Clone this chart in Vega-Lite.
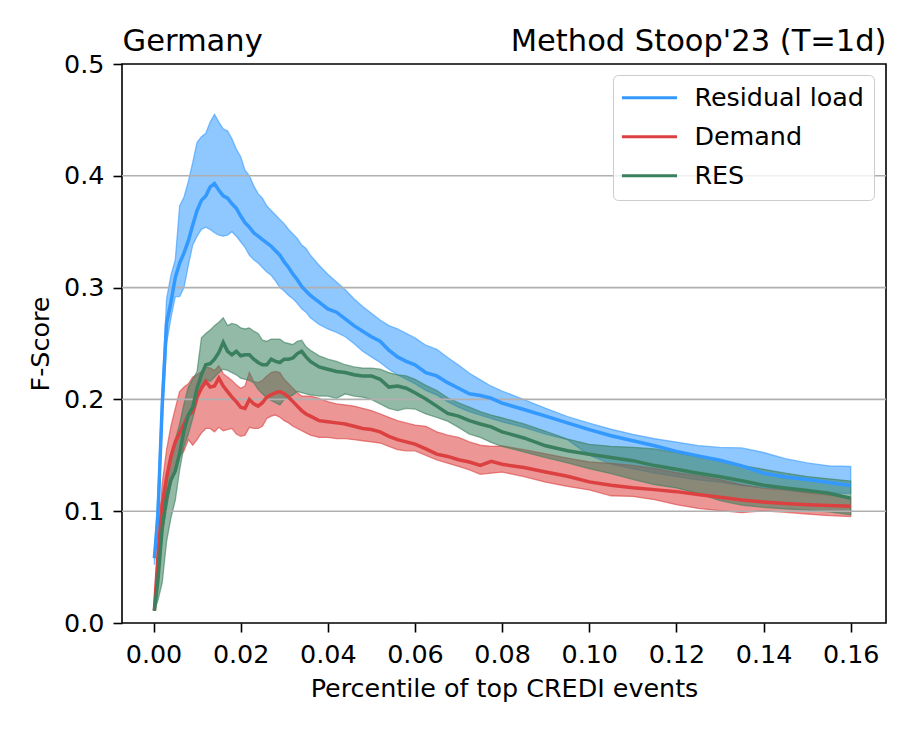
{
  "$schema": "https://vega.github.io/schema/vega-lite/v6.json",
  "width": 764,
  "height": 559,
  "autosize": {"type": "none"},
  "padding": {"left": 122, "top": 64, "right": 27, "bottom": 108},
  "config": {
    "font": "DejaVu Sans",
    "view": {"stroke": "#000000", "strokeWidth": 1.6},
    "axis": {
      "labelFont": "DejaVu Sans", "titleFont": "DejaVu Sans",
      "labelColor": "#000000", "titleColor": "#000000", "tickColor": "#000000",
      "labelFontSize": 25.4, "titleFontSize": 25.4, "titleFontWeight": "normal",
      "tickWidth": 1.6, "tickSize": 9, "domain": false, "grid": false
    }
  },
  "datasets": {
    "bands": [
      {"s":"Residual load","x":0.0002,"lo":0.052,"m":0.058,"hi":0.064},
      {"s":"Residual load","x":0.001,"lo":0.080,"m":0.095,"hi":0.115},
      {"s":"Residual load","x":0.002,"lo":0.180,"m":0.195,"hi":0.210},
      {"s":"Residual load","x":0.003,"lo":0.250,"m":0.268,"hi":0.290},
      {"s":"Residual load","x":0.004,"lo":0.273,"m":0.287,"hi":0.311},
      {"s":"Residual load","x":0.005,"lo":0.292,"m":0.309,"hi":0.325},
      {"s":"Residual load","x":0.006,"lo":0.292,"m":0.322,"hi":0.373},
      {"s":"Residual load","x":0.007,"lo":0.300,"m":0.331,"hi":0.381},
      {"s":"Residual load","x":0.008,"lo":0.320,"m":0.342,"hi":0.395},
      {"s":"Residual load","x":0.009,"lo":0.338,"m":0.356,"hi":0.412},
      {"s":"Residual load","x":0.010,"lo":0.346,"m":0.369,"hi":0.430},
      {"s":"Residual load","x":0.011,"lo":0.352,"m":0.378,"hi":0.435},
      {"s":"Residual load","x":0.012,"lo":0.354,"m":0.382,"hi":0.438},
      {"s":"Residual load","x":0.013,"lo":0.352,"m":0.390,"hi":0.448},
      {"s":"Residual load","x":0.014,"lo":0.349,"m":0.393,"hi":0.455},
      {"s":"Residual load","x":0.015,"lo":0.347,"m":0.387,"hi":0.448},
      {"s":"Residual load","x":0.016,"lo":0.346,"m":0.382,"hi":0.442},
      {"s":"Residual load","x":0.017,"lo":0.347,"m":0.380,"hi":0.440},
      {"s":"Residual load","x":0.018,"lo":0.350,"m":0.375,"hi":0.433},
      {"s":"Residual load","x":0.019,"lo":0.346,"m":0.371,"hi":0.424},
      {"s":"Residual load","x":0.020,"lo":0.341,"m":0.364,"hi":0.417},
      {"s":"Residual load","x":0.021,"lo":0.336,"m":0.358,"hi":0.405},
      {"s":"Residual load","x":0.022,"lo":0.329,"m":0.354,"hi":0.400},
      {"s":"Residual load","x":0.023,"lo":0.325,"m":0.349,"hi":0.391},
      {"s":"Residual load","x":0.024,"lo":0.322,"m":0.346,"hi":0.384},
      {"s":"Residual load","x":0.025,"lo":0.318,"m":0.343,"hi":0.380},
      {"s":"Residual load","x":0.026,"lo":0.314,"m":0.340,"hi":0.373},
      {"s":"Residual load","x":0.027,"lo":0.311,"m":0.337,"hi":0.369},
      {"s":"Residual load","x":0.028,"lo":0.306,"m":0.333,"hi":0.365},
      {"s":"Residual load","x":0.029,"lo":0.300,"m":0.329,"hi":0.361},
      {"s":"Residual load","x":0.030,"lo":0.297,"m":0.323,"hi":0.357},
      {"s":"Residual load","x":0.031,"lo":0.293,"m":0.318,"hi":0.352},
      {"s":"Residual load","x":0.032,"lo":0.290,"m":0.312,"hi":0.348},
      {"s":"Residual load","x":0.033,"lo":0.286,"m":0.307,"hi":0.344},
      {"s":"Residual load","x":0.034,"lo":0.281,"m":0.301,"hi":0.338},
      {"s":"Residual load","x":0.035,"lo":0.278,"m":0.297,"hi":0.335},
      {"s":"Residual load","x":0.036,"lo":0.273,"m":0.293,"hi":0.329},
      {"s":"Residual load","x":0.038,"lo":0.267,"m":0.287,"hi":0.320},
      {"s":"Residual load","x":0.040,"lo":0.263,"m":0.281,"hi":0.312},
      {"s":"Residual load","x":0.042,"lo":0.260,"m":0.278,"hi":0.305},
      {"s":"Residual load","x":0.044,"lo":0.256,"m":0.272,"hi":0.298},
      {"s":"Residual load","x":0.046,"lo":0.250,"m":0.266,"hi":0.290},
      {"s":"Residual load","x":0.048,"lo":0.243,"m":0.261,"hi":0.283},
      {"s":"Residual load","x":0.050,"lo":0.238,"m":0.256,"hi":0.277},
      {"s":"Residual load","x":0.052,"lo":0.233,"m":0.252,"hi":0.271},
      {"s":"Residual load","x":0.054,"lo":0.227,"m":0.244,"hi":0.266},
      {"s":"Residual load","x":0.056,"lo":0.222,"m":0.238,"hi":0.263},
      {"s":"Residual load","x":0.058,"lo":0.218,"m":0.234,"hi":0.259},
      {"s":"Residual load","x":0.060,"lo":0.214,"m":0.231,"hi":0.255},
      {"s":"Residual load","x":0.0625,"lo":0.208,"m":0.224,"hi":0.2485},
      {"s":"Residual load","x":0.065,"lo":0.204,"m":0.221,"hi":0.2447},
      {"s":"Residual load","x":0.0675,"lo":0.198,"m":0.215,"hi":0.2375},
      {"s":"Residual load","x":0.070,"lo":0.193,"m":0.210,"hi":0.2307},
      {"s":"Residual load","x":0.0725,"lo":0.189,"m":0.205,"hi":0.2234},
      {"s":"Residual load","x":0.075,"lo":0.186,"m":0.2035,"hi":0.2175},
      {"s":"Residual load","x":0.0775,"lo":0.183,"m":0.201,"hi":0.2118},
      {"s":"Residual load","x":0.080,"lo":0.180,"m":0.1967,"hi":0.2075},
      {"s":"Residual load","x":0.085,"lo":0.175,"m":0.191,"hi":0.1999},
      {"s":"Residual load","x":0.090,"lo":0.169,"m":0.185,"hi":0.192},
      {"s":"Residual load","x":0.095,"lo":0.164,"m":0.179,"hi":0.1847},
      {"s":"Residual load","x":0.100,"lo":0.150,"m":0.173,"hi":0.1787},
      {"s":"Residual load","x":0.105,"lo":0.142,"m":0.1675,"hi":0.1733},
      {"s":"Residual load","x":0.110,"lo":0.138,"m":0.163,"hi":0.1688},
      {"s":"Residual load","x":0.115,"lo":0.134,"m":0.1585,"hi":0.1648},
      {"s":"Residual load","x":0.120,"lo":0.131,"m":0.1535,"hi":0.1618},
      {"s":"Residual load","x":0.125,"lo":0.128,"m":0.1495,"hi":0.1587},
      {"s":"Residual load","x":0.130,"lo":0.126,"m":0.1455,"hi":0.157},
      {"s":"Residual load","x":0.135,"lo":0.123,"m":0.1406,"hi":0.1566},
      {"s":"Residual load","x":0.140,"lo":0.121,"m":0.134,"hi":0.1525},
      {"s":"Residual load","x":0.145,"lo":0.119,"m":0.1306,"hi":0.147},
      {"s":"Residual load","x":0.150,"lo":0.117,"m":0.1283,"hi":0.1432},
      {"s":"Residual load","x":0.155,"lo":0.1165,"m":0.1257,"hi":0.1406},
      {"s":"Residual load","x":0.160,"lo":0.1158,"m":0.1229,"hi":0.140},

      {"s":"Demand","x":0.0002,"lo":0.011,"m":0.011,"hi":0.015},
      {"s":"Demand","x":0.001,"lo":0.050,"m":0.058,"hi":0.070},
      {"s":"Demand","x":0.002,"lo":0.080,"m":0.106,"hi":0.125},
      {"s":"Demand","x":0.003,"lo":0.103,"m":0.130,"hi":0.155},
      {"s":"Demand","x":0.004,"lo":0.125,"m":0.149,"hi":0.176},
      {"s":"Demand","x":0.005,"lo":0.139,"m":0.162,"hi":0.192},
      {"s":"Demand","x":0.006,"lo":0.149,"m":0.170,"hi":0.207},
      {"s":"Demand","x":0.007,"lo":0.154,"m":0.178,"hi":0.211},
      {"s":"Demand","x":0.008,"lo":0.164,"m":0.186,"hi":0.214},
      {"s":"Demand","x":0.009,"lo":0.159,"m":0.189,"hi":0.220},
      {"s":"Demand","x":0.010,"lo":0.164,"m":0.202,"hi":0.222},
      {"s":"Demand","x":0.011,"lo":0.170,"m":0.210,"hi":0.225},
      {"s":"Demand","x":0.012,"lo":0.174,"m":0.216,"hi":0.229},
      {"s":"Demand","x":0.013,"lo":0.174,"m":0.211,"hi":0.228},
      {"s":"Demand","x":0.014,"lo":0.171,"m":0.212,"hi":0.226},
      {"s":"Demand","x":0.015,"lo":0.175,"m":0.219,"hi":0.230},
      {"s":"Demand","x":0.016,"lo":0.172,"m":0.212,"hi":0.223},
      {"s":"Demand","x":0.017,"lo":0.173,"m":0.207,"hi":0.220},
      {"s":"Demand","x":0.018,"lo":0.174,"m":0.202,"hi":0.217},
      {"s":"Demand","x":0.019,"lo":0.169,"m":0.198,"hi":0.213},
      {"s":"Demand","x":0.020,"lo":0.167,"m":0.193,"hi":0.210},
      {"s":"Demand","x":0.021,"lo":0.168,"m":0.192,"hi":0.212},
      {"s":"Demand","x":0.022,"lo":0.175,"m":0.200,"hi":0.224},
      {"s":"Demand","x":0.023,"lo":0.174,"m":0.196,"hi":0.216},
      {"s":"Demand","x":0.024,"lo":0.174,"m":0.194,"hi":0.215},
      {"s":"Demand","x":0.025,"lo":0.176,"m":0.197,"hi":0.217},
      {"s":"Demand","x":0.026,"lo":0.183,"m":0.202,"hi":0.221},
      {"s":"Demand","x":0.027,"lo":0.185,"m":0.204,"hi":0.224},
      {"s":"Demand","x":0.028,"lo":0.186,"m":0.206,"hi":0.225},
      {"s":"Demand","x":0.029,"lo":0.184,"m":0.207,"hi":0.224},
      {"s":"Demand","x":0.030,"lo":0.181,"m":0.205,"hi":0.218},
      {"s":"Demand","x":0.031,"lo":0.179,"m":0.202,"hi":0.214},
      {"s":"Demand","x":0.032,"lo":0.176,"m":0.198,"hi":0.210},
      {"s":"Demand","x":0.033,"lo":0.174,"m":0.194,"hi":0.206},
      {"s":"Demand","x":0.034,"lo":0.172,"m":0.190,"hi":0.203},
      {"s":"Demand","x":0.035,"lo":0.170,"m":0.187,"hi":0.203},
      {"s":"Demand","x":0.036,"lo":0.168,"m":0.185,"hi":0.203},
      {"s":"Demand","x":0.038,"lo":0.166,"m":0.181,"hi":0.201},
      {"s":"Demand","x":0.040,"lo":0.166,"m":0.180,"hi":0.198},
      {"s":"Demand","x":0.042,"lo":0.165,"m":0.179,"hi":0.196},
      {"s":"Demand","x":0.044,"lo":0.165,"m":0.178,"hi":0.195},
      {"s":"Demand","x":0.046,"lo":0.164,"m":0.176,"hi":0.194},
      {"s":"Demand","x":0.048,"lo":0.163,"m":0.174,"hi":0.192},
      {"s":"Demand","x":0.050,"lo":0.162,"m":0.173,"hi":0.190},
      {"s":"Demand","x":0.052,"lo":0.161,"m":0.171,"hi":0.187},
      {"s":"Demand","x":0.054,"lo":0.158,"m":0.167,"hi":0.184},
      {"s":"Demand","x":0.056,"lo":0.155,"m":0.164,"hi":0.181},
      {"s":"Demand","x":0.058,"lo":0.154,"m":0.162,"hi":0.179},
      {"s":"Demand","x":0.060,"lo":0.154,"m":0.160,"hi":0.177},
      {"s":"Demand","x":0.0625,"lo":0.150,"m":0.1557,"hi":0.1759},
      {"s":"Demand","x":0.065,"lo":0.146,"m":0.151,"hi":0.171},
      {"s":"Demand","x":0.0675,"lo":0.143,"m":0.149,"hi":0.168},
      {"s":"Demand","x":0.070,"lo":0.140,"m":0.146,"hi":0.166},
      {"s":"Demand","x":0.0725,"lo":0.137,"m":0.144,"hi":0.162},
      {"s":"Demand","x":0.075,"lo":0.133,"m":0.141,"hi":0.159},
      {"s":"Demand","x":0.0775,"lo":0.134,"m":0.1446,"hi":0.158},
      {"s":"Demand","x":0.080,"lo":0.135,"m":0.142,"hi":0.1585},
      {"s":"Demand","x":0.085,"lo":0.131,"m":0.139,"hi":0.155},
      {"s":"Demand","x":0.090,"lo":0.126,"m":0.135,"hi":0.1513},
      {"s":"Demand","x":0.095,"lo":0.1222,"m":0.1312,"hi":0.1475},
      {"s":"Demand","x":0.100,"lo":0.119,"m":0.1262,"hi":0.144},
      {"s":"Demand","x":0.105,"lo":0.1138,"m":0.1232,"hi":0.1428},
      {"s":"Demand","x":0.110,"lo":0.1132,"m":0.121,"hi":0.141},
      {"s":"Demand","x":0.115,"lo":0.1103,"m":0.1193,"hi":0.1382},
      {"s":"Demand","x":0.120,"lo":0.1058,"m":0.1175,"hi":0.1346},
      {"s":"Demand","x":0.125,"lo":0.1025,"m":0.115,"hi":0.1315},
      {"s":"Demand","x":0.130,"lo":0.1005,"m":0.1125,"hi":0.1283},
      {"s":"Demand","x":0.135,"lo":0.0987,"m":0.110,"hi":0.1238},
      {"s":"Demand","x":0.140,"lo":0.1004,"m":0.1083,"hi":0.1205},
      {"s":"Demand","x":0.145,"lo":0.099,"m":0.1068,"hi":0.119},
      {"s":"Demand","x":0.150,"lo":0.0975,"m":0.1058,"hi":0.1165},
      {"s":"Demand","x":0.155,"lo":0.096,"m":0.105,"hi":0.1145},
      {"s":"Demand","x":0.160,"lo":0.0952,"m":0.1045,"hi":0.1125},

      {"s":"RES","x":0.0002,"lo":0.011,"m":0.011,"hi":0.012},
      {"s":"RES","x":0.001,"lo":0.020,"m":0.038,"hi":0.045},
      {"s":"RES","x":0.002,"lo":0.036,"m":0.085,"hi":0.094},
      {"s":"RES","x":0.003,"lo":0.073,"m":0.112,"hi":0.125},
      {"s":"RES","x":0.004,"lo":0.094,"m":0.128,"hi":0.150},
      {"s":"RES","x":0.005,"lo":0.110,"m":0.136,"hi":0.164},
      {"s":"RES","x":0.006,"lo":0.137,"m":0.152,"hi":0.178},
      {"s":"RES","x":0.007,"lo":0.158,"m":0.172,"hi":0.196},
      {"s":"RES","x":0.008,"lo":0.169,"m":0.186,"hi":0.211},
      {"s":"RES","x":0.009,"lo":0.183,"m":0.193,"hi":0.218},
      {"s":"RES","x":0.010,"lo":0.198,"m":0.210,"hi":0.225},
      {"s":"RES","x":0.011,"lo":0.212,"m":0.222,"hi":0.255},
      {"s":"RES","x":0.012,"lo":0.218,"m":0.231,"hi":0.259},
      {"s":"RES","x":0.013,"lo":0.216,"m":0.232,"hi":0.262},
      {"s":"RES","x":0.014,"lo":0.220,"m":0.236,"hi":0.266},
      {"s":"RES","x":0.015,"lo":0.224,"m":0.242,"hi":0.269},
      {"s":"RES","x":0.016,"lo":0.227,"m":0.251,"hi":0.273},
      {"s":"RES","x":0.017,"lo":0.226,"m":0.243,"hi":0.266},
      {"s":"RES","x":0.018,"lo":0.224,"m":0.240,"hi":0.268},
      {"s":"RES","x":0.019,"lo":0.222,"m":0.243,"hi":0.267},
      {"s":"RES","x":0.020,"lo":0.219,"m":0.239,"hi":0.264},
      {"s":"RES","x":0.021,"lo":0.218,"m":0.240,"hi":0.263},
      {"s":"RES","x":0.022,"lo":0.217,"m":0.240,"hi":0.264},
      {"s":"RES","x":0.023,"lo":0.215,"m":0.236,"hi":0.261},
      {"s":"RES","x":0.024,"lo":0.209,"m":0.233,"hi":0.259},
      {"s":"RES","x":0.025,"lo":0.205,"m":0.231,"hi":0.253},
      {"s":"RES","x":0.026,"lo":0.2015,"m":0.231,"hi":0.252},
      {"s":"RES","x":0.027,"lo":0.199,"m":0.236,"hi":0.254},
      {"s":"RES","x":0.028,"lo":0.197,"m":0.234,"hi":0.254},
      {"s":"RES","x":0.029,"lo":0.195,"m":0.233,"hi":0.254},
      {"s":"RES","x":0.030,"lo":0.200,"m":0.236,"hi":0.251},
      {"s":"RES","x":0.031,"lo":0.202,"m":0.236,"hi":0.250},
      {"s":"RES","x":0.032,"lo":0.204,"m":0.237,"hi":0.249},
      {"s":"RES","x":0.033,"lo":0.207,"m":0.241,"hi":0.252},
      {"s":"RES","x":0.034,"lo":0.206,"m":0.243,"hi":0.253},
      {"s":"RES","x":0.035,"lo":0.205,"m":0.238,"hi":0.247},
      {"s":"RES","x":0.036,"lo":0.204,"m":0.234,"hi":0.244},
      {"s":"RES","x":0.038,"lo":0.203,"m":0.229,"hi":0.239},
      {"s":"RES","x":0.040,"lo":0.203,"m":0.227,"hi":0.236},
      {"s":"RES","x":0.042,"lo":0.201,"m":0.225,"hi":0.234},
      {"s":"RES","x":0.044,"lo":0.205,"m":0.224,"hi":0.231},
      {"s":"RES","x":0.046,"lo":0.203,"m":0.222,"hi":0.229},
      {"s":"RES","x":0.048,"lo":0.202,"m":0.221,"hi":0.228},
      {"s":"RES","x":0.050,"lo":0.200,"m":0.221,"hi":0.228},
      {"s":"RES","x":0.052,"lo":0.196,"m":0.218,"hi":0.227},
      {"s":"RES","x":0.054,"lo":0.192,"m":0.211,"hi":0.224},
      {"s":"RES","x":0.056,"lo":0.190,"m":0.212,"hi":0.222},
      {"s":"RES","x":0.058,"lo":0.192,"m":0.210,"hi":0.221},
      {"s":"RES","x":0.060,"lo":0.1914,"m":0.206,"hi":0.218},
      {"s":"RES","x":0.0625,"lo":0.187,"m":0.2003,"hi":0.2125},
      {"s":"RES","x":0.065,"lo":0.184,"m":0.194,"hi":0.208},
      {"s":"RES","x":0.0675,"lo":0.1805,"m":0.1875,"hi":0.2015},
      {"s":"RES","x":0.070,"lo":0.175,"m":0.185,"hi":0.197},
      {"s":"RES","x":0.0725,"lo":0.169,"m":0.181,"hi":0.193},
      {"s":"RES","x":0.075,"lo":0.166,"m":0.178,"hi":0.189},
      {"s":"RES","x":0.0775,"lo":0.1615,"m":0.1755,"hi":0.186},
      {"s":"RES","x":0.080,"lo":0.158,"m":0.171,"hi":0.1835},
      {"s":"RES","x":0.085,"lo":0.153,"m":0.1655,"hi":0.178},
      {"s":"RES","x":0.090,"lo":0.148,"m":0.1585,"hi":0.1715},
      {"s":"RES","x":0.095,"lo":0.1433,"m":0.154,"hi":0.1645},
      {"s":"RES","x":0.100,"lo":0.138,"m":0.151,"hi":0.1598},
      {"s":"RES","x":0.105,"lo":0.1337,"m":0.148,"hi":0.158},
      {"s":"RES","x":0.110,"lo":0.1285,"m":0.1452,"hi":0.1571},
      {"s":"RES","x":0.115,"lo":0.1237,"m":0.1408,"hi":0.1557},
      {"s":"RES","x":0.120,"lo":0.1208,"m":0.1375,"hi":0.1523},
      {"s":"RES","x":0.125,"lo":0.1159,"m":0.134,"hi":0.1485},
      {"s":"RES","x":0.130,"lo":0.1095,"m":0.1308,"hi":0.1451},
      {"s":"RES","x":0.135,"lo":0.1055,"m":0.1272,"hi":0.141},
      {"s":"RES","x":0.140,"lo":0.1035,"m":0.1232,"hi":0.1375},
      {"s":"RES","x":0.145,"lo":0.102,"m":0.1207,"hi":0.134},
      {"s":"RES","x":0.150,"lo":0.101,"m":0.1185,"hi":0.131},
      {"s":"RES","x":0.155,"lo":0.0995,"m":0.116,"hi":0.129},
      {"s":"RES","x":0.160,"lo":0.0968,"m":0.1116,"hi":0.127}
    ]
  },
  "resolve": {"axis": {"x": "independent", "y": "independent"}},
  "layer": [
    {
      "data": {"name": "bands"},
      "transform": [{"filter": "datum.s === 'Residual load'"}],
      "mark": {"type": "area", "fill": "#3399FF", "fillOpacity": 0.55, "stroke": "#3399FF", "strokeOpacity": 0.6, "strokeWidth": 1.3},
      "encoding": {
        "x": {"field": "x", "type": "quantitative", "scale": {"domain": [-0.00723, 0.1681], "nice": false, "zero": false},
              "axis": {"orient": "top", "title": "Germany", "titleAnchor": "start", "labels": false, "ticks": false, "domain": false, "grid": false,
                       "titleFontSize": 30.5, "titleBaseline": "alphabetic", "titlePadding": 14}},
        "y": {"field": "lo", "type": "quantitative", "scale": {"domain": [0, 0.5], "nice": false, "zero": false},
              "axis": {"orient": "left", "values": [0, 0.1, 0.2, 0.3, 0.4, 0.5], "format": ".1f", "labelPadding": 9, "title": "F-Score", "titlePadding": 10}},
        "y2": {"field": "hi"}
      }
    },
    {
      "data": {"name": "bands"},
      "transform": [{"filter": "datum.s === 'Demand'"}],
      "mark": {"type": "area", "fill": "#DC4040", "fillOpacity": 0.55, "stroke": "#DC4040", "strokeOpacity": 0.6, "strokeWidth": 1.3},
      "encoding": {
        "x": {"field": "x", "type": "quantitative", "scale": {"domain": [-0.00723, 0.1681], "nice": false, "zero": false},
              "axis": {"orient": "top", "title": "Method Stoop'23 (T=1d)", "titleAnchor": "end", "labels": false, "ticks": false, "domain": false, "grid": false,
                       "titleFontSize": 30.5, "titleBaseline": "alphabetic", "titlePadding": 14}},
        "y": {"field": "lo", "type": "quantitative", "scale": {"domain": [0, 0.5], "nice": false, "zero": false}, "axis": null},
        "y2": {"field": "hi"}
      }
    },
    {
      "data": {"name": "bands"},
      "transform": [{"filter": "datum.s === 'RES'"}],
      "mark": {"type": "area", "fill": "#3A7F5E", "fillOpacity": 0.55, "stroke": "#3A7F5E", "strokeOpacity": 0.6, "strokeWidth": 1.3},
      "encoding": {
        "x": {"field": "x", "type": "quantitative", "scale": {"domain": [-0.00723, 0.1681], "nice": false, "zero": false},
              "axis": {"orient": "bottom", "values": [0, 0.02, 0.04, 0.06, 0.08, 0.1, 0.12, 0.14, 0.16], "format": ".2f", "labelPadding": 10.5,
                       "title": "Percentile of top CREDI events", "titlePadding": 9}},
        "y": {"field": "lo", "type": "quantitative", "scale": {"domain": [0, 0.5], "nice": false, "zero": false}, "axis": null},
        "y2": {"field": "hi"}
      }
    },
    {
      "data": {"values": [{"g": 0.1}, {"g": 0.2}, {"g": 0.3}, {"g": 0.4}]},
      "mark": {"type": "rule", "color": "#b0b0b0", "strokeWidth": 1.6},
      "encoding": {
        "y": {"field": "g", "type": "quantitative", "scale": {"domain": [0, 0.5], "nice": false, "zero": false}, "axis": null}
      }
    },
    {
      "data": {"name": "bands"},
      "mark": {"type": "line", "strokeWidth": 3.5},
      "encoding": {
        "x": {"field": "x", "type": "quantitative", "scale": {"domain": [-0.00723, 0.1681], "nice": false, "zero": false}, "axis": null},
        "y": {"field": "m", "type": "quantitative", "scale": {"domain": [0, 0.5], "nice": false, "zero": false}, "axis": null},
        "color": {"field": "s", "type": "nominal",
                  "scale": {"domain": ["Residual load", "Demand", "RES"], "range": ["#3399FF", "#DC4040", "#3A7F5E"]},
                  "legend": {"orient": "none", "legendX": 491, "legendY": 11, "title": null,
                             "symbolType": "M-2,0H6", "symbolSize": 190, "symbolStrokeWidth": 3,
                             "labelFontSize": 25.4, "labelFont": "DejaVu Sans", "labelColor": "#000000", "labelLimit": 400,
                             "labelOffset": 46, "rowPadding": 12, "padding": 10,
                             "strokeColor": "#cccccc", "fillColor": "rgba(255,255,255,0.8)", "cornerRadius": 5}}
      }
    }
  ]
}
